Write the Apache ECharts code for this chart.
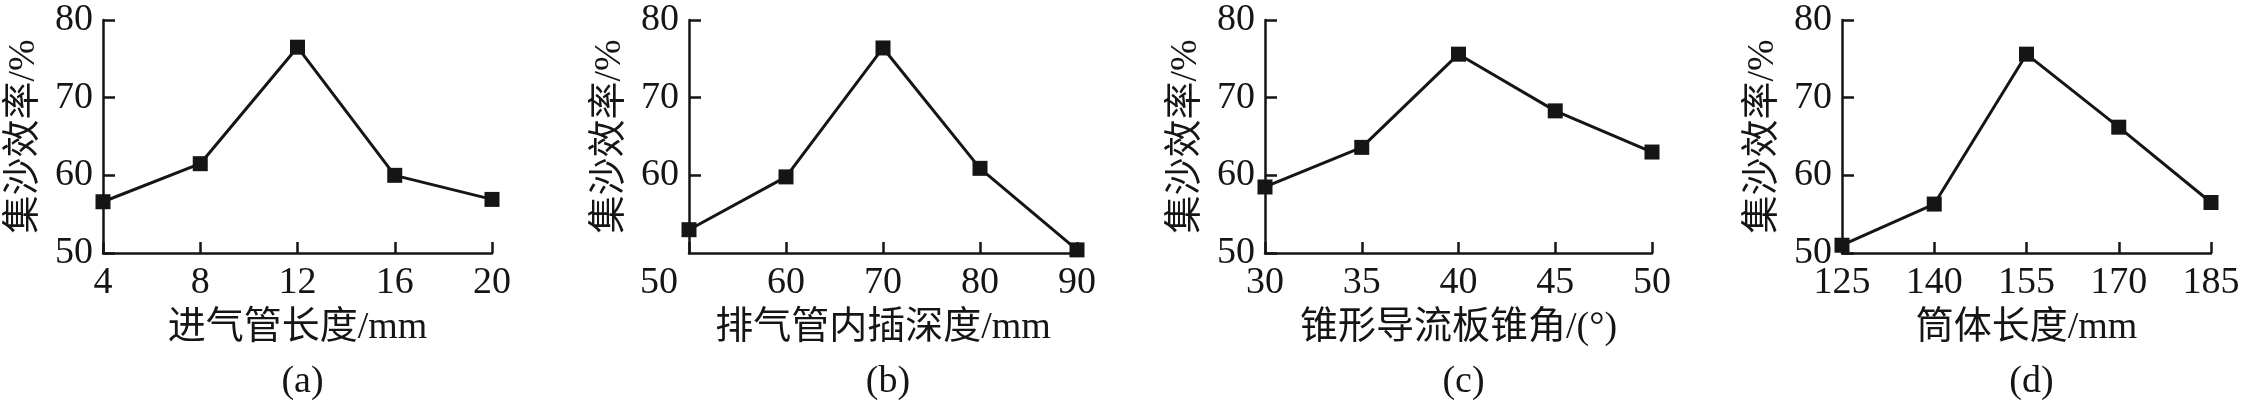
<!DOCTYPE html>
<html>
<head>
<meta charset="utf-8">
<script src="https://cdn.jsdelivr.net/npm/echarts@6/dist/echarts.min.js"></script>
<style>
html,body{margin:0;padding:0;background:#fff;}
#c{width:2268px;height:409px;}
</style>
</head>
<body>
<div id="c"></div>
<script>
// Panel data
const catsA = ['4', '8', '12', '16', '20'];
const valsA = [56.6, 61.5, 76.5, 60.0, 56.9];
const catsB = ['50', '60', '70', '80', '90'];
const valsB = [53.0, 59.8, 76.4, 60.9, 50.4];
const catsC = ['30', '35', '40', '45', '50'];
const valsC = [58.5, 63.6, 75.6, 68.3, 63.0];
const catsD = ['125', '140', '155', '170', '185'];
const valsD = [51.0, 56.3, 75.6, 66.2, 56.5];
const xNames = ['进气管长度/mm', '排气管内插深度/mm', '锥形导流板锥角/(°)', '筒体长度/mm'];
const yName = '集沙效率/%';
const panelTags = ['(a)', '(b)', '(c)', '(d)'];
const yTicks = { min: 50, max: 80, interval: 10 };

const FONT = "'Liberation Serif', 'Times New Roman', 'Noto Sans CJK SC', serif";
const INK = '#151515';

const grids = [
  { left: 103, width: 389 },
  { left: 689, width: 388 },
  { left: 1265, width: 387 },
  { left: 1842, width: 369 }
];
const cats = [catsA, catsB, catsC, catsD];
const vals = [valsA, valsB, valsC, valsD];

const option = {
  backgroundColor: '#fff',
  animation: false,
  grid: grids.map(g => ({ left: g.left, width: g.width, top: 20, height: 233, containLabel: false })),
  title: grids.map((g, i) => ({
    text: panelTags[i],
    left: g.left + g.width / 2,
    top: 358,
    textAlign: 'center',
    textStyle: { fontFamily: FONT, fontSize: 38, fontWeight: 'normal', color: INK }
  })),
  xAxis: cats.map((c, i) => ({
    type: 'category',
    gridIndex: i,
    data: c,
    boundaryGap: false,
    name: xNames[i],
    nameLocation: 'middle',
    nameGap: 56,
    nameTextStyle: { fontFamily: FONT, fontSize: 38, color: INK, verticalAlign: 'top' },
    axisLine: { show: true, lineStyle: { color: INK, width: 2.5 } },
    axisTick: { show: true, inside: true, length: 11, lineStyle: { color: INK, width: 2.5 } },
    axisLabel: {
      show: true, margin: 11, fontFamily: FONT, fontSize: 38, color: INK,
      interval: 0,
      formatter: i === 1 ? function (v, idx) { return idx === 0 ? '{sh|' + v + '}' : v; } : undefined,
      rich: { sh: { padding: [0, 60, 0, 0], fontFamily: FONT, fontSize: 38, color: INK } }
    },
    splitLine: { show: false }
  })),
  yAxis: cats.map((c, i) => ({
    type: 'value',
    gridIndex: i,
    min: yTicks.min, max: yTicks.max, interval: yTicks.interval,
    name: yName,
    nameLocation: 'middle',
    nameRotate: 90,
    nameGap: 60,
    nameTextStyle: { fontFamily: FONT, fontSize: 38, color: INK },
    axisLine: { show: true, lineStyle: { color: INK, width: 2.5 } },
    axisTick: { show: true, inside: true, length: 12, lineStyle: { color: INK, width: 2.5 } },
    axisLabel: { show: true, margin: 10, fontFamily: FONT, fontSize: 38, color: INK, showMinLabel: i !== 1 },
    splitLine: { show: false }
  })),
  series: vals.map((v, i) => ({
    type: 'line',
    xAxisIndex: i,
    yAxisIndex: i,
    data: v,
    symbol: 'rect',
    symbolSize: 15,
    clip: false,
    lineStyle: { color: INK, width: 3 },
    itemStyle: { color: INK }
  }))
};

const chart = echarts.init(document.getElementById('c'), null, { renderer: 'canvas' });
chart.setOption(option);
</script>
</body>
</html>
